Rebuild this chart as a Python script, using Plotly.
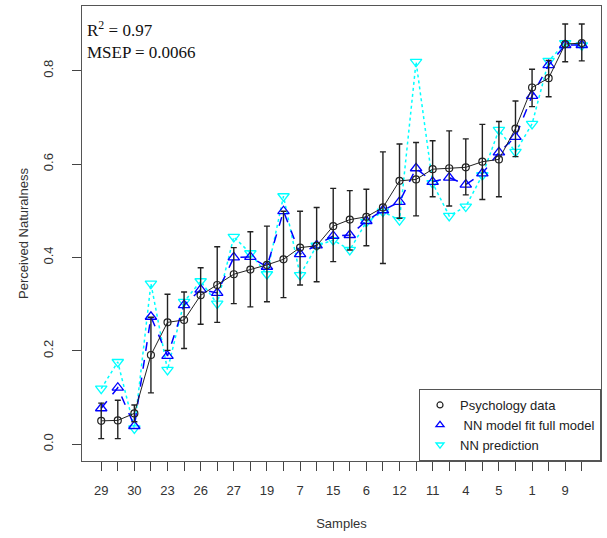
import plotly.graph_objects as go

sample_pos = list(range(1, 31))
label_pos = [1, 3, 5, 7, 9, 11, 13, 15, 17, 19, 21, 23, 25, 27, 29]
tick_labels = ["29", "30", "23", "26", "27", "19", "7", "15", "6", "12", "11", "4", "5", "1", "9"]
unlabeled_pos = [2, 4, 6, 8, 10, 12, 14, 16, 18, 20, 22, 24, 26, 28, 30]

psych_mean = [0.050, 0.051, 0.066, 0.191, 0.261, 0.266, 0.319, 0.341, 0.364, 0.374,
              0.384, 0.396, 0.421, 0.425, 0.467, 0.481, 0.487, 0.507, 0.564, 0.567,
              0.589, 0.591, 0.593, 0.605, 0.610, 0.676, 0.764, 0.784, 0.857, 0.859]
psych_low = [0.012, 0.012, 0.048, 0.110, 0.201, 0.205, 0.257, 0.261, 0.301, 0.294,
             0.305, 0.314, 0.341, 0.348, 0.391, 0.416, 0.425, 0.387, 0.484, 0.489,
             0.530, 0.510, 0.534, 0.524, 0.530, 0.616, 0.723, 0.744, 0.819, 0.821]
psych_high = [0.088, 0.094, 0.084, 0.272, 0.321, 0.326, 0.378, 0.423, 0.421, 0.455,
              0.467, 0.499, 0.499, 0.507, 0.548, 0.543, 0.546, 0.626, 0.643, 0.646,
              0.650, 0.671, 0.654, 0.685, 0.691, 0.735, 0.803, 0.822, 0.900, 0.900]
nn_fit = [0.077, 0.121, 0.039, 0.273, 0.189, 0.298, 0.331, 0.324, 0.400, 0.401,
          0.380, 0.499, 0.407, 0.426, 0.446, 0.448, 0.478, 0.501, 0.519, 0.591,
          0.562, 0.571, 0.556, 0.580, 0.625, 0.658, 0.746, 0.812, 0.855, 0.855]
nn_pred = [0.119, 0.176, 0.034, 0.344, 0.159, 0.305, 0.349, 0.301, 0.444, 0.409,
           0.364, 0.531, 0.362, 0.425, 0.437, 0.416, 0.476, 0.498, 0.480, 0.819,
           0.559, 0.489, 0.509, 0.576, 0.673, 0.626, 0.686, 0.821, 0.859, 0.854]

err_plus = [h - m for h, m in zip(psych_high, psych_mean)]
err_minus = [m - l for m, l in zip(psych_mean, psych_low)]

FONT = "Liberation Sans, Arial, sans-serif"

fig = go.Figure()

fig.add_trace(go.Scatter(
    x=sample_pos, y=nn_pred, mode="lines+markers", showlegend=False,
    line=dict(color="#00FFFF", width=1.5, dash="dot"),
    marker=dict(symbol="triangle-down-open", size=10, color="#00FFFF", line=dict(width=1.3)),
))
fig.add_trace(go.Scatter(
    x=sample_pos, y=nn_fit, mode="lines+markers", showlegend=False,
    line=dict(color="#0000FF", width=1.5, dash="dash"),
    marker=dict(symbol="triangle-up-open", size=10, color="#0000FF", line=dict(width=1.3)),
))
fig.add_trace(go.Scatter(
    x=sample_pos, y=psych_mean, mode="lines+markers", showlegend=False,
    line=dict(color="#222222", width=1),
    marker=dict(symbol="circle-open", size=7, color="#222222", line=dict(width=1.2)),
    error_y=dict(type="data", symmetric=False, array=err_plus, arrayminus=err_minus,
                 color="#222222", thickness=1.4, width=3),
))

# legend-only entries (marker only, like R legend)
fig.add_trace(go.Scatter(
    x=[None], y=[None], mode="markers", name="Psychology data",
    marker=dict(symbol="circle-open", size=6, color="#222222", line=dict(width=1.2)),
))
fig.add_trace(go.Scatter(
    x=[None], y=[None], mode="markers", name=" NN model fit full model",
    marker=dict(symbol="triangle-up-open", size=7, color="#0000FF", line=dict(width=1.3)),
))
fig.add_trace(go.Scatter(
    x=[None], y=[None], mode="markers", name="NN prediction",
    marker=dict(symbol="triangle-down-open", size=7, color="#00FFFF", line=dict(width=1.3)),
))

fig.add_annotation(
    xref="paper", yref="paper", x=0.005, y=0.978, xanchor="left", yanchor="top",
    text="R<sup>2</sup> = 0.97<br>MSEP = 0.0066", showarrow=False, align="left",
    font=dict(family="Liberation Serif, Times New Roman, serif", size=17, color="#111"),
)

fig.update_layout(
    width=607, height=538,
    margin=dict(l=82, r=6, t=6, b=77),
    plot_bgcolor="white", paper_bgcolor="white",
    font=dict(family=FONT, size=13, color="#333"),
    legend=dict(x=1, y=0, xanchor="right", yanchor="bottom",
                bordercolor="#555", borderwidth=1, bgcolor="white",
                font=dict(family=FONT, size=13, color="#222"),
                itemwidth=30, tracegroupgap=0),
    xaxis=dict(
        range=[-0.16, 31.16], tickmode="array", tickvals=label_pos, ticktext=tick_labels,
        ticks="outside", ticklen=9, tickcolor="#444", tickangle=0, ticklabelstandoff=8,
        minor=dict(tickmode="array", tickvals=unlabeled_pos, ticks="outside",
                   ticklen=9, tickcolor="#444", showgrid=False),
        showline=True, mirror=True, linecolor="#555", linewidth=1.3,
        showgrid=False, zeroline=False,
        title=dict(text="Samples", standoff=22, font=dict(size=13, color="#333")),
        tickfont=dict(size=13, color="#333"),
    ),
    yaxis=dict(
        range=[-0.036, 0.9385], tickvals=[0, 0.2, 0.4, 0.6, 0.8],
        ticktext=["0.0", "0.2", "0.4", "0.6", "0.8"],
        ticks="outside", ticklen=9, tickcolor="#444", tickangle=-90, ticklabelstandoff=14,
        showline=True, mirror=True, linecolor="#555", linewidth=1.3,
        showgrid=False, zeroline=False,
        title=dict(text="Perceived Naturalness", standoff=9, font=dict(size=13, color="#333")),
        tickfont=dict(size=13, color="#333"),
    ),
)

fig.write_html("out.html")
